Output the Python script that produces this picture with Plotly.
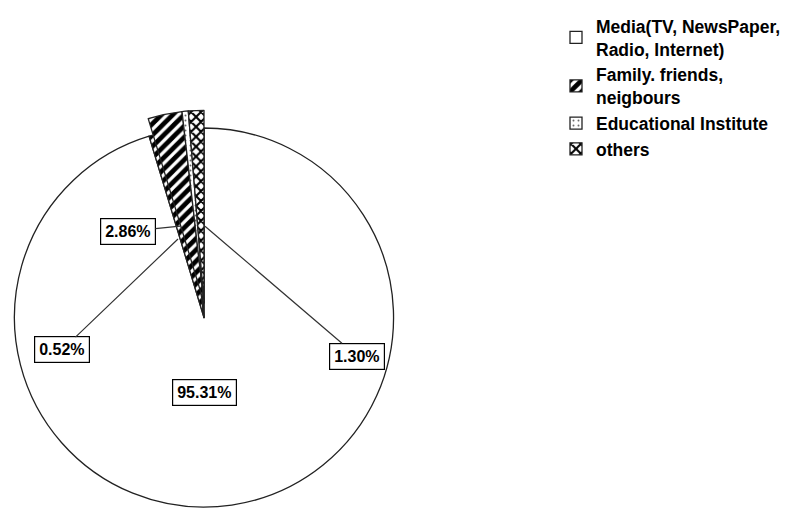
import plotly.graph_objects as go

# ---- data ----
categories = ["Media(TV, NewsPaper,<br>Radio, Internet)",
              "Family. friends,<br>neigbours",
              "Educational Institute",
              "others"]
percent_values = [95.31, 2.86, 0.52, 1.30]
label_texts = [f"{v:.2f}%" for v in percent_values]

# ---- layout helpers (screen pixel -> paper; page body has an 8px margin) ----
W, H = 807, 560
OFF = 8
def fx(sx):
    return (sx - OFF) / W
def fy(sy):
    return 1 - (sy - OFF) / H

pattern_shape = ["", "/", ".", "x"]
pattern_fg = ["black", "black", "#666666", "black"]
pattern_size = [8, 8, 5, 7]
pattern_solid = [0.3, 0.6, 0.12, 0.5]
line_col = "#222222"
LW = 1.3

# base pie (full circle, legend source)
base = go.Pie(
    labels=categories, values=percent_values, sort=False,
    direction="clockwise", rotation=0, textinfo="none",
    marker=dict(colors=["white"] * 4,
                pattern=dict(shape=pattern_shape, fgcolor=pattern_fg,
                             bgcolor="white", size=pattern_size,
                             solidity=pattern_solid),
                line=dict(color=line_col, width=LW)),
    domain=dict(x=[fx(11), fx(397)], y=[fy(506), fy(120)]),
    showlegend=True, hoverinfo="label+percent",
)

# exploded small slices drawn on top
exploded = go.Pie(
    labels=categories, values=percent_values, sort=False,
    direction="clockwise", rotation=0, textinfo="none",
    marker=dict(colors=["rgba(0,0,0,0)", "white", "white", "white"],
                pattern=dict(shape=pattern_shape, fgcolor=pattern_fg,
                             bgcolor=["rgba(0,0,0,0)", "white", "white", "white"],
                             size=pattern_size, solidity=pattern_solid),
                line=dict(color=line_col, width=[0, LW, LW, LW])),
    domain=dict(x=[0, fx(400)], y=[fy(494), fy(102)]),
    showlegend=False, hoverinfo="skip",
)

fig = go.Figure([base, exploded])

label_font = dict(family="Liberation Sans", size=16, color="black", weight="bold")
# percentage label boxes: (text index, tip screen px, box centre screen px)
label_pos = [
    (1, (180, 220), (128, 225)),
    (2, (178, 233), (62, 344)),
    (3, (205, 220), (357, 350)),
]
for i, (tx, ty), (bx, by) in label_pos:
    fig.add_annotation(
        x=fx(tx), y=fy(ty), xref="paper", yref="paper",
        ax=bx - tx, ay=by - ty, axref="pixel", ayref="pixel",
        text=label_texts[i], showarrow=True, arrowhead=0, arrowwidth=1.2,
        arrowcolor="#333333", standoff=0, font=label_font,
        bgcolor="white", bordercolor="black", borderwidth=1.2, borderpad=4,
    )
fig.add_annotation(
    x=fx(204), y=fy(389), xref="paper", yref="paper", showarrow=False,
    xanchor="center", yanchor="middle",
    text=label_texts[0], font=label_font,
    bgcolor="white", bordercolor="black", borderwidth=1.2, borderpad=4,
)

fig.update_layout(
    width=W, height=H, margin=dict(l=0, r=0, t=0, b=0),
    paper_bgcolor="white", plot_bgcolor="white",
    legend=dict(x=fx(556), y=fy(-2), xanchor="left", yanchor="top",
                font=dict(family="Liberation Sans", size=17.5, color="black", weight="bold"),
                traceorder="normal", valign="middle", tracegroupgap=0),
)

fig.write_html("out.html")
